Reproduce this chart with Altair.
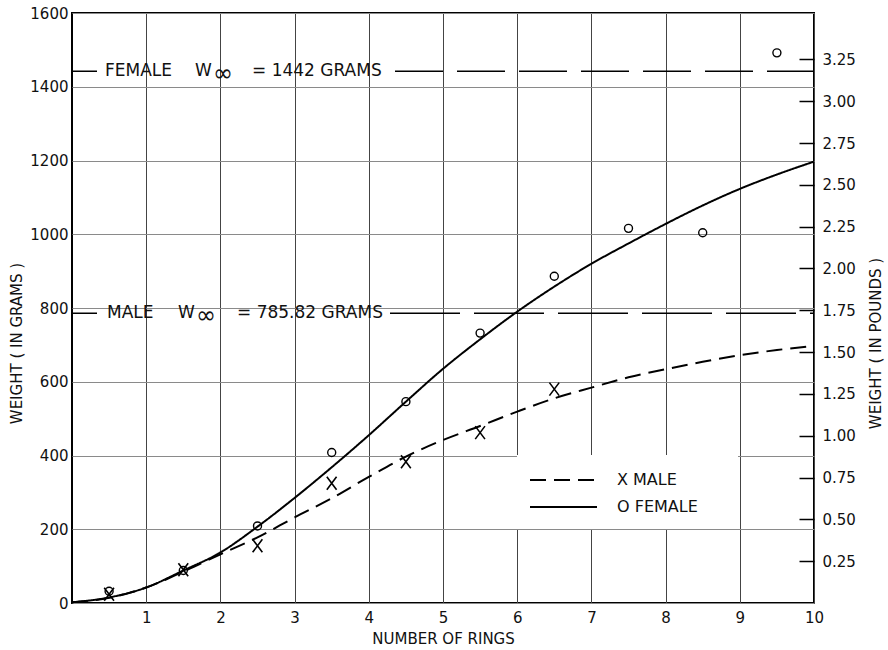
import altair as alt
import pandas as pd

# ---------------- data ----------------
rings_curve = [0, 0.5, 1, 1.5, 2, 2.5, 3, 3.5, 4, 4.5, 5, 5.5, 6, 6.5, 7, 7.5, 8, 8.5, 9, 9.5, 10]
female_curve = [2, 15, 42, 88, 137, 207, 285, 368, 455, 546, 635, 715, 790, 858, 920, 975, 1028, 1078, 1123, 1162, 1197]
male_curve = [2, 14, 42, 85, 132, 178, 232, 284, 342, 397, 442, 480, 519, 555, 584, 612, 634, 654, 672, 686, 697]

female_rings = [0.5, 1.5, 2.5, 3.5, 4.5, 5.5, 6.5, 7.5, 8.5, 9.5]
female_obs = [32, 88, 209, 408, 546, 732, 886, 1016, 1004, 1492]
male_rings = [0.5, 1.5, 2.5, 3.5, 4.5, 5.5, 6.5]
male_obs = [24, 90, 155, 325, 383, 462, 580]

female_w_inf = [1442]
male_w_inf = [785.82]

series_names = ["X MALE", "O FEMALE"]
gram_ticks = [0, 200, 400, 600, 800, 1000, 1200, 1400, 1600]
ring_ticks = [1, 2, 3, 4, 5, 6, 7, 8, 9, 10]
pound_ticks = [0.25, 0.5, 0.75, 1.0, 1.25, 1.5, 1.75, 2.0, 2.25, 2.5, 2.75, 3.0, 3.25]
GRAMS_PER_POUND = 453.592

FONT = "DejaVu Sans"
INK = "#111111"

curves_df = pd.concat([
    pd.DataFrame({"ring": rings_curve, "weight": male_curve, "sex": series_names[0]}),
    pd.DataFrame({"ring": rings_curve, "weight": female_curve, "sex": series_names[1]}),
])
female_df = pd.DataFrame({"ring": female_rings, "weight": female_obs})
male_df = pd.DataFrame({"ring": male_rings, "weight": male_obs})
fem_inf_df = pd.DataFrame({"weight": female_w_inf})
male_inf_df = pd.DataFrame({"weight": male_w_inf})
pounds_df = pd.DataFrame({"lb": pound_ticks})
one_row = pd.DataFrame({"k": [0]})

x_enc = alt.X(
    "ring:Q",
    scale=alt.Scale(domain=[0, 10], nice=False),
    axis=alt.Axis(
        values=ring_ticks, title="NUMBER OF RINGS", grid=True, gridColor="#444444",
        gridWidth=1, ticks=False, domain=False, labelPadding=7, labelFlush=False,
        labelFont=FONT, labelFontSize=15, labelColor=INK,
        titleFont=FONT, titleFontSize=15, titleFontWeight="normal", titleColor=INK,
        titlePadding=6,
    ),
)
y_enc = alt.Y(
    "weight:Q",
    scale=alt.Scale(domain=[0, 1600], nice=False),
    axis=alt.Axis(
        values=gram_ticks, format="d", title="WEIGHT ( IN GRAMS )", grid=True,
        gridColor="#8a8a8a", gridWidth=1, ticks=False, domain=False, labelPadding=4,
        labelFont=FONT, labelFontSize=15, labelColor=INK,
        titleFont=FONT, titleFontSize=15, titleFontWeight="normal", titleColor=INK,
        titlePadding=5, titleY=330,
    ),
)

curves = alt.Chart(curves_df).mark_line(color="black", strokeWidth=2, interpolate="monotone").encode(
    x=x_enc, y=y_enc,
    strokeDash=alt.StrokeDash(
        "sex:N",
        scale=alt.Scale(domain=series_names, range=[[16, 8], [1, 0]]),
        legend=None,
    ),
)

female_pts = alt.Chart(female_df).mark_point(
    shape="circle", filled=False, size=64, color="black", strokeWidth=1.4, opacity=1
).encode(x=x_enc, y=y_enc)

male_pts = alt.Chart(male_df).mark_point(
    shape="M-0.75,-1L0.75,1M-0.75,1L0.75,-1", filled=False, size=169,
    color="black", strokeWidth=1.6, opacity=1
).encode(x=x_enc, y=y_enc)

def asym_rule(df, x0, x1, dash):
    return alt.Chart(df).mark_rule(color="black", strokeWidth=1.5, strokeDash=dash).encode(
        y=y_enc, x=alt.value(x0), x2=alt.value(x1)
    )

def label(df, text, xpix, dy=0, size=16):
    return alt.Chart(df).mark_text(
        text=text, align="left", baseline="middle", font=FONT, fontSize=size, color=INK, dy=dy
    ).encode(y=y_enc, x=alt.value(xpix))

annotations = [
    asym_rule(fem_inf_df, 0, 25, [1, 0]),
    asym_rule(fem_inf_df, 323, 742, [48, 14]),
    label(fem_inf_df, "FEMALE", 33, 0, 17),
    label(fem_inf_df, "W", 123, 0, 17),
    label(fem_inf_df, "∞", 141, 3, 24),
    label(fem_inf_df, "= 1442 GRAMS", 180, 0, 17),
    asym_rule(male_inf_df, 0, 25, [1, 0]),
    asym_rule(male_inf_df, 318, 742, [70, 14]),
    label(male_inf_df, "MALE", 35, 0, 17),
    label(male_inf_df, "W", 106, 0, 17),
    label(male_inf_df, "∞", 124, 3, 24),
    label(male_inf_df, "= 785.82 GRAMS", 165, 0, 17),
]

# legend drawn as a white box over the grid, with line samples and labels
legend_box = alt.Chart(one_row).mark_rect(color="white").encode(
    x=alt.value(445), x2=alt.value(666), y=alt.value(442), y2=alt.value(516)
)
legend_male_line = alt.Chart(one_row).mark_rule(color="black", strokeWidth=2, strokeDash=[16, 8]).encode(
    x=alt.value(458), x2=alt.value(525), y=alt.value(467)
)
legend_female_line = alt.Chart(one_row).mark_rule(color="black", strokeWidth=2).encode(
    x=alt.value(458), x2=alt.value(525), y=alt.value(494)
)
legend_male_text = alt.Chart(one_row).mark_text(
    text=series_names[0], align="left", baseline="middle", font=FONT, fontSize=16, color=INK
).encode(x=alt.value(545), y=alt.value(467))
legend_female_text = alt.Chart(one_row).mark_text(
    text=series_names[1], align="left", baseline="middle", font=FONT, fontSize=16, color=INK
).encode(x=alt.value(545), y=alt.value(494))

grams_layer = alt.layer(
    legend_box, curves, female_pts, male_pts, *annotations,
    legend_male_line, legend_female_line, legend_male_text, legend_female_text,
)

pounds_layer = alt.Chart(pounds_df).mark_point(opacity=0).encode(
    y=alt.Y(
        "lb:Q",
        scale=alt.Scale(domain=[0, 1600 / GRAMS_PER_POUND], nice=False, zero=True),
        axis=alt.Axis(
            orient="right", values=pound_ticks, format=".2f", offset=-15, tickSize=15,
            tickColor="black", tickWidth=1.5, domain=False, grid=False, labelPadding=8,
            labelFont=FONT, labelFontSize=15, labelColor=INK,
            title="WEIGHT ( IN POUNDS )", titleAngle=270, titleFont=FONT, titleFontSize=15,
            titleFontWeight="normal", titleColor=INK, titleX=84, titleY=330,
        ),
    )
)

chart = alt.layer(grams_layer, pounds_layer).resolve_scale(y="independent").properties(
    width=742, height=590,
    padding={"left": 72, "top": 13, "right": 74, "bottom": 47},
    autosize=alt.AutoSizeParams(type="none"),
    background="white",
).configure_view(stroke="black", strokeWidth=2)

chart.save("out.html", embed_options={"renderer": "svg", "actions": False})
